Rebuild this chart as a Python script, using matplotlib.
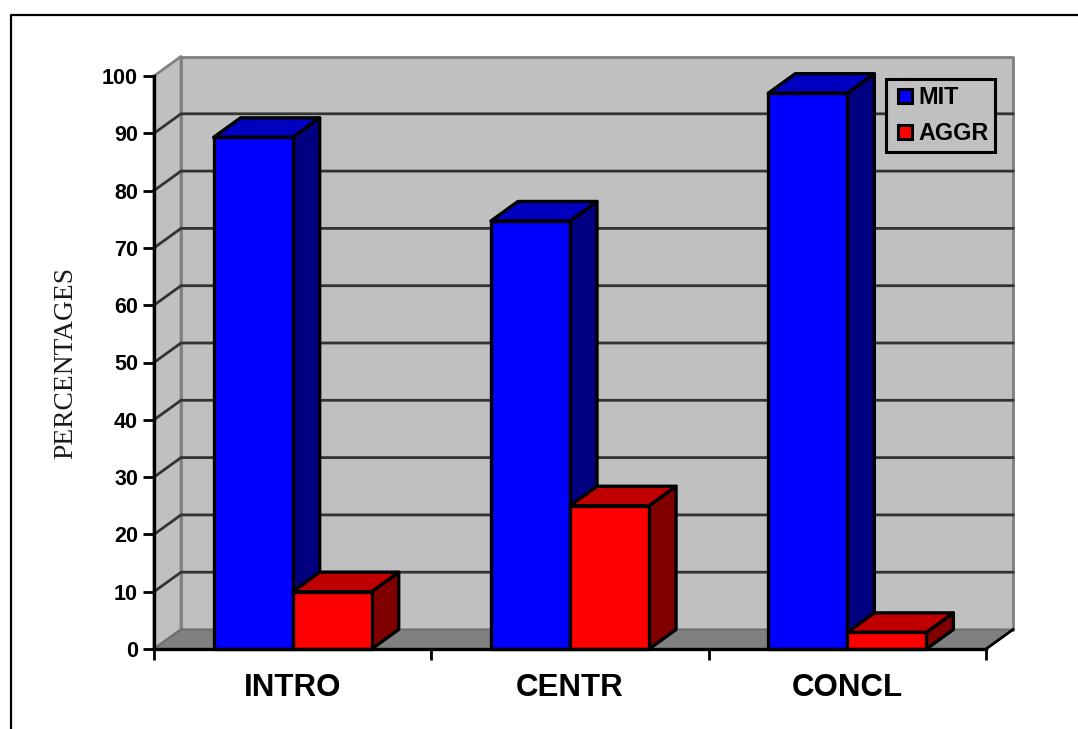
import matplotlib
matplotlib.use('Agg')
import matplotlib.pyplot as plt
from matplotlib.lines import Line2D
from matplotlib.patches import Polygon

categories = ['INTRO', 'CENTR', 'CONCL']
mit = [89.3, 74.7, 97]
aggr = [10, 25, 2.9]
yticks = [0, 10, 20, 30, 40, 50, 60, 70, 80, 90, 100]

W, H = 1078, 729
BAR_W = 0.285
DEPTH_X = 27 / 277.33   # floor depth in category units
DEPTH_Y = 19.5 / 5.73   # floor depth in percentage units

plt.rcParams['font.family'] = ['Liberation Sans', 'DejaVu Sans']

fig = plt.figure(figsize=(W / 100, H / 100), dpi=100)
ax = fig.add_axes([154 / W, 1 - 649 / H, 832 / W, 573 / H])
ax.set_xlim(0, 3)
ax.set_ylim(0, 100)


def face(pts, fc, ec='black', lw=2.4, z=2):
    ax.add_patch(Polygon(pts, closed=True, facecolor=fc, edgecolor=ec, linewidth=lw,
                         joinstyle='round', clip_on=False, zorder=z))


def box(x0, x1, top, front, roof, side):
    dx, dy = DEPTH_X, DEPTH_Y
    face([(x1, 0), (x1 + dx, dy), (x1 + dx, top + dy), (x1, top)], side)
    face([(x0, top), (x0 + dx, top + dy), (x1 + dx, top + dy), (x1, top)], roof)
    face([(x0, 0), (x1, 0), (x1, top), (x0, top)], front)


# walls and floor
face([(DEPTH_X, DEPTH_Y), (3 + DEPTH_X, DEPTH_Y), (3 + DEPTH_X, 100 + DEPTH_Y), (DEPTH_X, 100 + DEPTH_Y)],
     '#c0c0c0', ec='#808080', lw=2, z=1)
face([(0, 0), (DEPTH_X, DEPTH_Y), (DEPTH_X, 100 + DEPTH_Y), (0, 100)], '#c0c0c0', ec='#808080', lw=2, z=1)
face([(0, 0), (3, 0), (3 + DEPTH_X, DEPTH_Y), (DEPTH_X, DEPTH_Y)], '#808080', ec='#707070', lw=1.5, z=1)
ax.plot([3, 3 + DEPTH_X], [0, DEPTH_Y], color='black', lw=2, clip_on=False, zorder=1.6)

for v in yticks[1:-1]:
    ax.plot([0, DEPTH_X, 3 + DEPTH_X], [v, v + DEPTH_Y, v + DEPTH_Y], color='#333333', lw=2,
            clip_on=False, zorder=1.5, solid_joinstyle='round')

for i in range(len(categories)):
    mid = i + 0.5
    box(mid - BAR_W, mid, mit[i], '#0000ff', '#0000c0', '#000080')
    box(mid, mid + BAR_W, aggr[i], '#ff0000', '#c00000', '#800000')

ax.patch.set_visible(False)
for s in ['top', 'right']:
    ax.spines[s].set_visible(False)
for s in ['left', 'bottom']:
    ax.spines[s].set_linewidth(2.4)
    ax.spines[s].set_zorder(3)

ax.set_yticks(yticks)
ax.tick_params(axis='y', length=8, width=2, pad=3.5, labelsize=15.5)
for t in ax.get_yticklabels():
    t.set_fontweight('bold')
ax.set_xticks([0, 1, 2, 3])
ax.set_xticklabels([])
ax.tick_params(axis='x', length=8, width=2)
for i, name in enumerate(categories):
    ax.annotate(name, xy=(i + 0.5, 0), xytext=(0, -39), textcoords='offset pixels', ha='center', va='center',
                fontsize=22.5, fontweight='bold')

fig.text(66 / W, 1 - 363 / H, 'PERCENTAGES', rotation=90, ha='center', va='center',
         family='Liberation Serif', fontsize=19.8, color='#1a1a1a')

handles = [Line2D([], [], linestyle='none', marker='s', markersize=9.5, markeredgewidth=2.2,
                  markerfacecolor='#0000ff', markeredgecolor='black', label='MIT'),
           Line2D([], [], linestyle='none', marker='s', markersize=9.5, markeredgewidth=2.2,
                  markerfacecolor='#ff0000', markeredgecolor='black', label='AGGR')]
leg = ax.legend(handles=handles, loc='upper left', bbox_to_anchor=(886 / W, 1 - 79 / H),
                bbox_transform=fig.transFigure, numpoints=1, fancybox=False, framealpha=1,
                facecolor='#c0c0c0', edgecolor='black', prop={'weight': 'bold', 'size': 16.8},
                handlelength=1, handleheight=0.75, handletextpad=0.06, labelspacing=0.55,
                borderpad=0.31, borderaxespad=0)
leg.get_frame().set_linewidth(2.2)
leg.set_zorder(5)

# outer border, open at the bottom
fig.add_artist(Line2D([10.5 / W, 10.5 / W, 1], [0, 1 - 15 / H, 1 - 15 / H], color='black', lw=1.6))

fig.savefig('out.png', dpi=100)
